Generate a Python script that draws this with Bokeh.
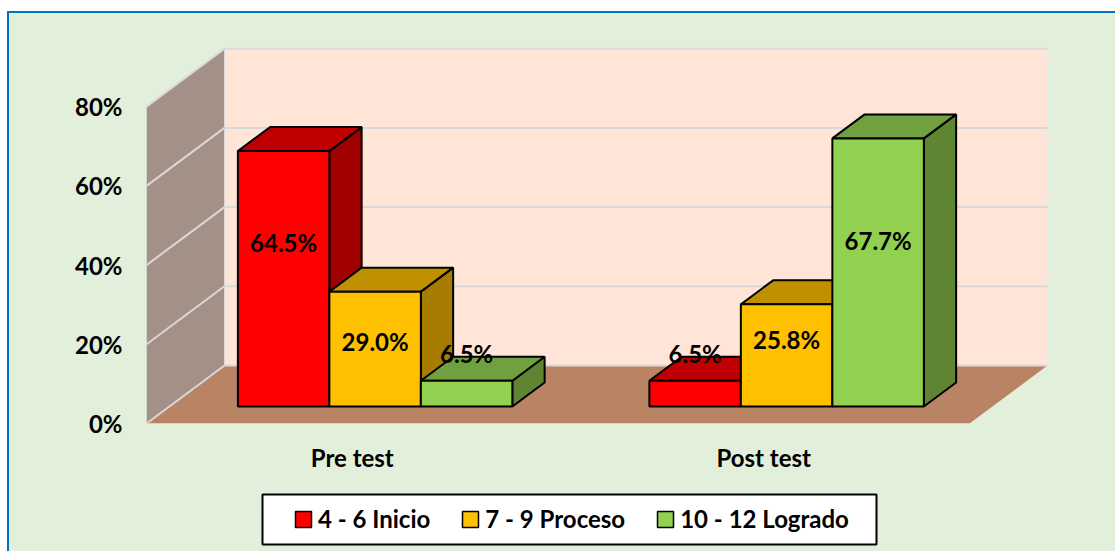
from bokeh.plotting import figure
from bokeh.embed import file_html
from bokeh.resources import INLINE
from bokeh.layouts import column
from bokeh.models import Range1d, LinearAxis, FixedTicker, Legend, LegendItem
from bokeh.core.properties import value

categories = ["Pre test", "Post test"]
series_names = ["4 - 6 Inicio", "7 - 9 Proceso", "10 - 12 Logrado"]
inicio = [64.5, 6.5]
proceso = [29.0, 25.8]
logrado = [6.5, 67.7]
y_ticks = [0, 20, 40, 60, 80]

FONT = "Lato"
FS = "24px"
BG = "#E2EFDA"
fronts = ["#FF0000", "#FFC000", "#92D050"]
tops = ["#C00000", "#C09000", "#70A040"]
sides = ["#A00000", "#A67D00", "#5F8533"]
# label heights (percent on the axis scale): these labels were hand-placed in the original
label_heights = [[45.8, 17.7], [20.8, 21.3], [17.7, 46.3]]

W, H = 1108, 477
LEFT, BOTTOM = 137, 67
PX_X, PX_Y = 411.5, 3.96
DX, DY = 78 / PX_X, 58 / PX_Y      # full depth of the chart box in data units
D0, D1 = 17 / 58, 41 / 58          # depth span of the bars
BAR = 91.5 / PX_X                  # bar width in category units
x_end = (W - LEFT) / PX_X
y_end = (H - BOTTOM) / PX_Y


def proj(x, y, d):
    return x + d * DX, y + d * DY


p = figure(width=W, height=H, output_backend="svg", toolbar_location=None,
           x_range=Range1d(0, x_end), y_range=Range1d(0, y_end),
           x_axis_type=None, y_axis_type=None,
           min_border_left=LEFT, min_border_right=0, min_border_top=0, min_border_bottom=BOTTOM,
           background_fill_color=None, border_fill_color=None,
           outline_line_color=None)
p.margin = (11, 0, 0, 7)
p.styles = {"border-top": "2px solid #0070C0", "border-left": "2px solid #0070C0", "background-color": BG}
p.grid.visible = False

yaxis = LinearAxis(ticker=FixedTicker(ticks=y_ticks),
                   major_label_overrides={t: f"{t}%" for t in y_ticks},
                   axis_line_color=None, major_tick_line_color=None, minor_tick_line_color=None,
                   major_label_standoff=18, major_label_text_font=FONT,
                   major_label_text_font_style="bold", major_label_text_font_size=FS,
                   major_label_text_color="#000000")
p.add_layout(yaxis, "left")
centers = [i + 0.5 for i in range(len(categories))]
xaxis = LinearAxis(ticker=FixedTicker(ticks=centers),
                   major_label_overrides=dict(zip(centers, categories)),
                   axis_line_color=None, major_tick_line_color=None, minor_tick_line_color=None,
                   major_label_standoff=13, major_label_text_font=FONT,
                   major_label_text_font_style="bold", major_label_text_font_size=FS,
                   major_label_text_color="#000000")
p.add_layout(xaxis, "below")

top_pct = y_ticks[-1]
n = len(categories)


def face(pts, color, line=None, lw=0):
    xs, ys = zip(*pts)
    return p.patch(list(xs), list(ys), fill_color=color, line_color=line, line_width=lw)


# chart box
face([proj(0, 0, 1), proj(n, 0, 1), proj(n, top_pct, 1), proj(0, top_pct, 1)], "#FEE5D8")
face([proj(0, 0, 0), proj(0, 0, 1), proj(0, top_pct, 1), proj(0, top_pct, 0)], "#A39087")
face([proj(0, 0, 0), proj(n, 0, 0), proj(n, 0, 1), proj(0, 0, 1)], "#B98463")

grid_x, grid_y = [], []
for t in y_ticks:
    a, b, c = proj(0, t, 0), proj(0, t, 1), proj(n, t, 1)
    grid_x.append([a[0], b[0], c[0]])
    grid_y.append([a[1], b[1], c[1]])
p.multi_line(grid_x, grid_y, line_color="#D9D9D9", line_width=2)
a, b = proj(0, 0, 1), proj(0, top_pct, 1)
p.line([a[0], b[0]], [a[1], b[1]], line_color="#D9D9D9", line_width=1)

# bars
series = [inicio, proceso, logrado]
label_x, label_y, label_t = [], [], []
for gi in range(n):
    left0 = centers[gi] - 1.5 * BAR
    for si, vals in enumerate(series):
        v = vals[gi]
        l, r = left0 + si * BAR, left0 + (si + 1) * BAR
        side = [proj(r, 0, D0), proj(r, 0, D1), proj(r, v, D1), proj(r, v, D0)]
        topf = [proj(l, v, D0), proj(r, v, D0), proj(r, v, D1), proj(l, v, D1)]
        front = [proj(l, 0, D0), proj(r, 0, D0), proj(r, v, D0), proj(l, v, D0)]
        face(side, sides[si], "#000000", 2)
        face(topf, tops[si], "#000000", 2)
        face(front, fronts[si], "#000000", 2)
        label_x.append(proj((l + r) / 2, 0, D0)[0])
        label_y.append(label_heights[si][gi])
        label_t.append(f"{v:.1f}%")

p.text(label_x, label_y, text=label_t, text_font=value(FONT), text_font_style="bold",
       text_font_size=FS, text_align="center", text_baseline="middle", text_color="#000000")

# legend strip below the chart; a column aligns its frame with the chart's frame,
# so its x range counts pixels from there and its y range from the page bottom
FRAME_X = 9 + LEFT
QH = 63
q = figure(width=W, height=QH, output_backend="svg", toolbar_location=None,
           x_range=Range1d(0, W - LEFT), y_range=Range1d(0, QH), x_axis_type=None, y_axis_type=None,
           min_border=0, background_fill_color=None, border_fill_color=None, outline_line_color=None)
q.margin = (0, 0, 0, 7)
q.styles = {"border-left": "2px solid #0070C0", "background-color": BG}
q.grid.visible = False
q.quad(left=[262 - FRAME_X], right=[876 - FRAME_X], bottom=[7], top=[57],
       fill_color="#FFFFFF", line_color="#000000", line_width=2)
legend_items = []
for si, name in enumerate(series_names):
    r = q.quad(left=[-50], right=[-40], bottom=[-50], top=[-40], fill_color=fronts[si],
               line_color="#000000", line_width=1.5)
    legend_items.append(LegendItem(label=name, renderers=[r]))
legend = Legend(items=legend_items, orientation="horizontal", location=(293 - FRAME_X, 18),
                glyph_width=20, glyph_height=20, label_standoff=5, spacing=30, padding=0, margin=0,
                label_text_font=FONT, label_text_font_style="bold", label_text_font_size=FS,
                label_text_color="#000000", border_line_color=None,
                background_fill_color=None)
q.add_layout(legend)

page = column(p, q, spacing=0)
open("out.html", "w").write(file_html(page, INLINE))
